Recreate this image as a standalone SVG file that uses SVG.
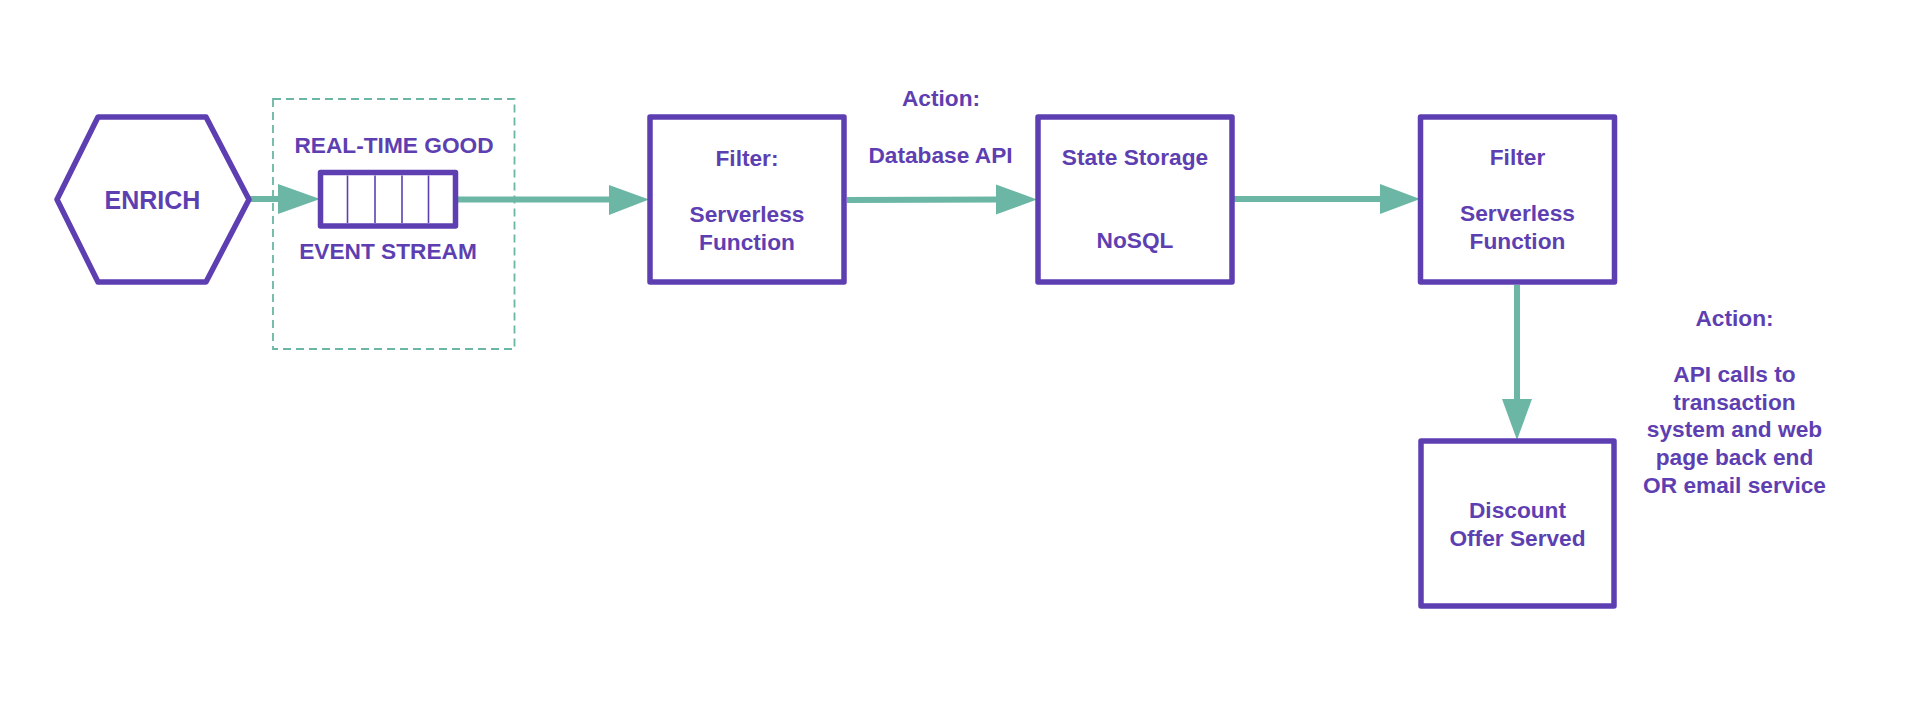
<svg xmlns="http://www.w3.org/2000/svg" width="1908" height="722" viewBox="0 0 1908 722">
<style>
.node{fill:#ffffff;stroke:#5E3FB2;stroke-width:5.5;stroke-linejoin:round}
.div{stroke:#5E3FB2;stroke-width:1.6}
.t{font-family:"Liberation Sans",Arial,sans-serif;font-weight:bold;font-size:22.7px;fill:#5E3FB2;text-anchor:middle}
.big{font-size:25px}
.line{stroke:#6BB6A4;stroke-width:6;fill:none}
.head{fill:#6BB6A4}
.dash{fill:none;stroke:#6BB6A4;stroke-width:1.8;stroke-dasharray:8 5}
</style>
<rect width="1908" height="722" fill="#ffffff"/>
<rect class="dash" x="273" y="99" width="241.5" height="250"/>
<g id="connectors">
<line class="line" x1="249" y1="199" x2="280" y2="199"/>
<polygon class="head" points="278,184 320,199 278,214"/>
<line class="line" x1="458" y1="199.5" x2="611" y2="199.5"/>
<polygon class="head" points="609,185 649,199.5 609,215"/>
<line class="line" x1="847" y1="200" x2="998" y2="199.5"/>
<polygon class="head" points="996,184.5 1037,199.5 996,214.5"/>
<line class="line" x1="1233" y1="199" x2="1382" y2="199"/>
<polygon class="head" points="1380,184 1420,199 1380,214"/>
<line class="line" x1="1517" y1="285" x2="1517" y2="401"/>
<polygon class="head" points="1502,399 1517,440 1532,399"/>
</g>
<g id="enrich">
<polygon class="node" points="57,199.5 98,117 206,117 249,199.5 206,282 98,282"/>
<text class="t big" x="152.5" y="209">ENRICH</text>
</g>
<g id="event-stream">
<rect class="node" x="320.5" y="172.5" width="135" height="53.5" stroke-width="6"/>
<line class="div" x1="347.5" y1="175.5" x2="347.5" y2="223"/>
<line class="div" x1="375" y1="175.5" x2="375" y2="223"/>
<line class="div" x1="402" y1="175.5" x2="402" y2="223"/>
<line class="div" x1="428.5" y1="175.5" x2="428.5" y2="223"/>
<text class="t" x="394" y="153.3" font-size="23">REAL-TIME GOOD</text>
<text class="t" x="388" y="259" font-size="23">EVENT STREAM</text>
</g>
<g id="filter1">
<rect class="node" x="650" y="117" width="194" height="165"/>
<text class="t" x="747" y="165.7">Filter:</text>
<text class="t" x="747" y="222.3">Serverless</text>
<text class="t" x="747" y="250">Function</text>
</g>
<g id="action-db">
<text class="t" x="941" y="106">Action:</text>
<text class="t" x="940.5" y="162.7">Database API</text>
</g>
<g id="state-storage">
<rect class="node" x="1038" y="117" width="194" height="165"/>
<text class="t" x="1135" y="165">State Storage</text>
<text class="t" x="1135" y="248">NoSQL</text>
</g>
<g id="filter2">
<rect class="node" x="1420.5" y="117" width="194" height="165"/>
<text class="t" x="1517.5" y="165">Filter</text>
<text class="t" x="1517.5" y="221">Serverless</text>
<text class="t" x="1517.5" y="249">Function</text>
</g>
<g id="discount">
<rect class="node" x="1421" y="441" width="193" height="165"/>
<text class="t" x="1517.5" y="517.7">Discount</text>
<text class="t" x="1517.5" y="545.7">Offer Served</text>
</g>
<g id="action-api">
<text class="t" x="1734.5" y="325.7">Action:</text>
<text class="t" x="1734.5" y="381.7">API calls to</text>
<text class="t" x="1734.5" y="409.5">transaction</text>
<text class="t" x="1734.5" y="437.3">system and web</text>
<text class="t" x="1734.5" y="465">page back end</text>
<text class="t" x="1734.5" y="493">OR email service</text>
</g>
</svg>
